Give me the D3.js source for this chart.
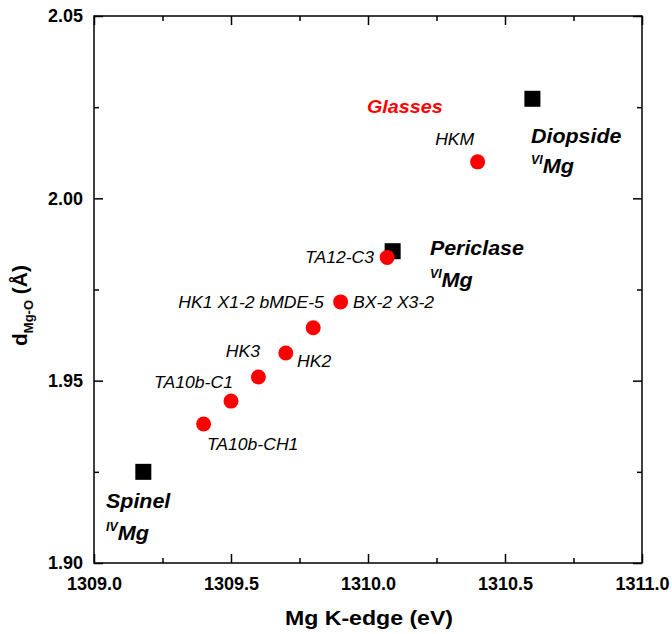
<!DOCTYPE html>
<html>
<head>
<meta charset="utf-8">
<script src="https://cdn.jsdelivr.net/npm/d3@7"></script>
<style>
  body { margin: 0; background: #fff; }
  svg text { font-family: "Liberation Sans", Arial, sans-serif; }
</style>
</head>
<body>
<svg id="chart" width="672" height="634"></svg>
<script>
// reference minerals (black squares)
const mineralNames = ["Spinel", "Periclase", "Diopside"]
const mineralSites = ["IV", "VI", "VI"]
const mineralEdge = [1309.18, 1310.09, 1310.6]
const mineralDist = [1.925, 1.9855, 2.0273]

// glasses (red circles)
const glassEdge = [1310.4, 1310.07, 1309.9, 1309.8, 1309.7, 1309.6, 1309.5, 1309.4]
const glassDist = [2.010, 1.9838, 1.9716, 1.9645, 1.9576, 1.9510, 1.9444, 1.9381]

// sample labels, placed in data units
const glassLabels = [
    { text: "HKM", x: 1310.245, y: 2.0146, anchor: "start" },
    { text: "TA12-C3", x: 1310.022, y: 1.9823, anchor: "end" },
    { text: "HK1 X1-2 bMDE-5", x: 1309.839, y: 1.9699, anchor: "end" },
    { text: "BX-2 X3-2", x: 1309.945, y: 1.9699, anchor: "start" },
    { text: "HK3", x: 1309.606, y: 1.9565, anchor: "end" },
    { text: "HK2", x: 1309.741, y: 1.9538, anchor: "start" },
    { text: "TA10b-C1", x: 1309.507, y: 1.9480, anchor: "end" },
    { text: "TA10b-CH1", x: 1309.412, y: 1.9310, anchor: "start" }
]
const mineralLabelX = [1309.044, 1310.226, 1310.595]
const mineralLabelY = [1.9151, 1.9845, 2.0152]
const mineralSiteY = [1.9063, 1.9757, 2.0070]

const xTicks = [1309.0, 1309.5, 1310.0, 1310.5, 1311.0]
const yTicks = [1.90, 1.95, 2.00, 2.05]

const margin = { top: 16, right: 30, bottom: 71, left: 94 }
const width = 672 - margin.left - margin.right
const height = 634 - margin.top - margin.bottom

const svg = d3.select("#chart")
const g = svg.append("g").attr("transform", `translate(${margin.left},${margin.top})`)

const x = d3.scaleLinear().domain([1309, 1311]).range([0, width])
const y = d3.scaleLinear().domain([1.90, 2.05]).range([height, 0])

const xMinor = d3.range(1309.25, 1311, 0.5)
const yMinor = d3.range(1.925, 2.05, 0.05)

// the original's lettering is a bit wider than Liberation Sans
const stretch = 1.1

function styleAxis(sel) {
    sel.select(".domain").remove()
    sel.selectAll("line").attr("stroke", "#000").attr("stroke-width", 1.5)
}

function place(px, py, s) {
    return `translate(${px},${py}) scale(${s || stretch},1)`
}

// bottom
g.append("g").attr("transform", `translate(0,${height})`)
    .call(d3.axisBottom(x).tickValues(xTicks).tickSize(-9).tickPadding(14).tickFormat(d3.format(".1f")))
    .call(styleAxis)
    .selectAll("text").attr("font-size", 18).attr("font-weight", "bold").attr("fill", "#000")
g.append("g").attr("transform", `translate(0,${height})`)
    .call(d3.axisBottom(x).tickValues(xMinor).tickSize(-5).tickFormat(""))
    .call(styleAxis)
// top
g.append("g")
    .call(d3.axisTop(x).tickValues(xTicks).tickSize(-9).tickFormat(""))
    .call(styleAxis)
g.append("g")
    .call(d3.axisTop(x).tickValues(xMinor).tickSize(-5).tickFormat(""))
    .call(styleAxis)
// left
g.append("g")
    .call(d3.axisLeft(y).tickValues(yTicks).tickSize(-9).tickPadding(11).tickFormat(d3.format(".2f")))
    .call(styleAxis)
    .selectAll("text").attr("font-size", 18).attr("font-weight", "bold").attr("fill", "#000")
g.append("g")
    .call(d3.axisLeft(y).tickValues(yMinor).tickSize(-5).tickFormat(""))
    .call(styleAxis)
// right
g.append("g").attr("transform", `translate(${width},0)`)
    .call(d3.axisRight(y).tickValues(yTicks).tickSize(-9).tickFormat(""))
    .call(styleAxis)
g.append("g").attr("transform", `translate(${width},0)`)
    .call(d3.axisRight(y).tickValues(yMinor).tickSize(-5).tickFormat(""))
    .call(styleAxis)

// frame
g.append("rect").attr("width", width).attr("height", height)
    .attr("fill", "none").attr("stroke", "#000").attr("stroke-width", 1.5)

// squares
const sq = 16
g.selectAll(".mineral").data(mineralEdge).enter().append("rect")
    .attr("class", "mineral")
    .attr("x", (d) => x(d) - sq / 2)
    .attr("y", (d, i) => y(mineralDist[i]) - sq / 2)
    .attr("width", sq).attr("height", sq)
    .attr("fill", "#000")

// circles
g.selectAll(".glass").data(glassEdge).enter().append("circle")
    .attr("class", "glass")
    .attr("cx", (d) => x(d))
    .attr("cy", (d, i) => y(glassDist[i]))
    .attr("r", 7.5)
    .attr("fill", "#ff0000")

// glass labels
g.selectAll(".glabel").data(glassLabels).enter().append("text")
    .attr("class", "glabel")
    .attr("transform", (d) => place(x(d.x), y(d.y)))
    .attr("text-anchor", (d) => d.anchor)
    .attr("font-size", 16)
    .attr("font-style", "italic")
    .attr("fill", "#000")
    .text((d) => d.text)

g.append("text")
    .attr("transform", place(x(1309.996), y(2.0234)))
    .attr("font-size", 18).attr("font-weight", "bold").attr("font-style", "italic")
    .attr("fill", "#ff0000")
    .text("Glasses")

// mineral labels
mineralNames.forEach(function (name, i) {
    g.append("text")
        .attr("transform", place(x(mineralLabelX[i]), y(mineralLabelY[i]), 1.07))
        .attr("font-size", 20).attr("font-weight", "bold").attr("font-style", "italic")
        .text(name)
    const t = g.append("text")
        .attr("transform", place(x(mineralLabelX[i]), y(mineralSiteY[i]), 1.03))
        .attr("font-weight", "bold").attr("font-style", "italic")
    t.append("tspan").attr("font-size", 12).attr("dy", -9).text(mineralSites[i])
    t.append("tspan").attr("font-size", 21).attr("dy", 9).text("Mg")
})

// axis titles
svg.append("text")
    .attr("transform", place(margin.left + width / 2 + 1, 625))
    .attr("text-anchor", "middle")
    .attr("font-size", 21).attr("font-weight", "bold")
    .text("Mg K-edge (eV)")

const yt = svg.append("text")
    .attr("transform", `translate(27,${margin.top + height / 2 + 16}) rotate(-90)`)
    .attr("text-anchor", "middle")
    .attr("font-size", 21).attr("font-weight", "bold")
yt.append("tspan").text("d")
yt.append("tspan").attr("font-size", 13).attr("dy", 6).text("Mg-O")
yt.append("tspan").attr("dy", -6).text(" (Å)")
</script>
</body>
</html>
